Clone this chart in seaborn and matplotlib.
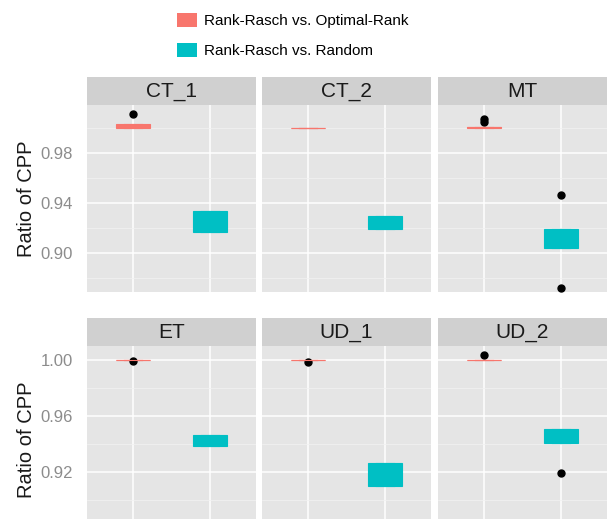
import numpy as np
import pandas as pd
import matplotlib
matplotlib.use("Agg")
import matplotlib.pyplot as plt
import seaborn as sns
from matplotlib.patches import Rectangle, Patch
from matplotlib.ticker import FixedLocator

# ---------------------------
# Data
# ---------------------------
panels = ["CT_1", "CT_2", "MT", "ET", "UD_1", "UD_2"]
comparisons = ["Rank-Rasch vs. Optimal-Rank", "Rank-Rasch vs. Random"]
colors = ["#F8766D", "#00BFC4"]

ct1_optimal = [1.0000, 1.0000, 1.0000, 1.0010, 1.0027, 1.0027, 1.0027, 1.0107]
ct1_random = [0.9166, 0.9166, 0.9166, 0.9250, 0.9336, 0.9336, 0.9336]
ct2_optimal = [0.9993, 0.9993, 0.9993, 0.9995, 0.9997, 0.9997, 0.9997]
ct2_random = [0.9187, 0.9187, 0.9187, 0.9240, 0.9294, 0.9294, 0.9294]
mt_optimal = [0.9996, 0.9996, 0.9996, 1.0000, 1.0004, 1.0004, 1.0004, 1.0048, 1.0067]
mt_random = [0.8715, 0.9040, 0.9040, 0.9040, 0.9110, 0.9187, 0.9187, 0.9187, 0.9462]
et_optimal = [0.9993, 1.0000, 1.0000, 1.0000, 1.0000, 1.0000, 1.0000, 1.0000]
et_random = [0.9386, 0.9386, 0.9386, 0.9420, 0.9462, 0.9462, 0.9462]
ud1_optimal = [0.9988, 1.0000, 1.0000, 1.0000, 1.0000, 1.0000, 1.0000, 1.0000]
ud1_random = [0.9099, 0.9099, 0.9099, 0.9180, 0.9260, 0.9260, 0.9260]
ud2_optimal = [1.0004, 1.0004, 1.0004, 1.0005, 1.0006, 1.0006, 1.0006, 1.0040]
ud2_random = [0.9192, 0.9403, 0.9403, 0.9403, 0.9460, 0.9510, 0.9510, 0.9510]

optimal_sets = [ct1_optimal, ct2_optimal, mt_optimal, et_optimal, ud1_optimal, ud2_optimal]
random_sets = [ct1_random, ct2_random, mt_random, et_random, ud1_random, ud2_random]

row_limits = [(0.8686, 1.018), (0.876, 1.0103)]
row_major = [[0.90, 0.94, 0.98], [0.92, 0.96, 1.00]]
row_minor = [[0.88, 0.92, 0.96, 1.00], [0.90, 0.94, 0.98]]

rows = []
for panel, opt, rnd in zip(panels, optimal_sets, random_sets):
    for v in opt:
        rows.append((panel, comparisons[0], v))
    for v in rnd:
        rows.append((panel, comparisons[1], v))
df = pd.DataFrame(rows, columns=["panel", "comparison", "ratio"])

# ---------------------------
# Figure
# ---------------------------
plt.rcParams["font.family"] = ["Liberation Sans", "DejaVu Sans"]
W, H = 608, 519
fig = plt.figure(figsize=(W / 100, H / 100), dpi=100)

col_x = [87, 262, 438]
panel_w = 169
panel_h = 187
row_top = [105, 346]
strip_h = 28

for i, panel in enumerate(panels):
    r, c = divmod(i, 3)
    left = col_x[c] / W
    bottom = 1 - (row_top[r] + panel_h) / H
    ax = fig.add_axes([left, bottom, panel_w / W, panel_h / H])
    sub = df[df["panel"] == panel]

    sns.boxplot(data=sub, x="comparison", y="ratio", hue="comparison",
                order=comparisons, hue_order=comparisons, palette=colors,
                saturation=1, width=0.45, linewidth=0.8, fliersize=5,
                legend=False, ax=ax)

    # outline same colour as fill, black outlier dots
    for cont, col in zip(ax.containers, colors):
        for b in cont.boxes:
            b.set_edgecolor(col)
            b.set_facecolor(col)
        for ln in list(cont.medians) + list(cont.whiskers) + list(cont.caps):
            ln.set_color(col)
        for f in cont.fliers:
            f.set_marker("o")
            f.set_markerfacecolor("black")
            f.set_markeredgecolor("black")
            f.set_markersize(5)

    ax.set_xlim(-0.6, 1.6)
    ax.set_ylim(*row_limits[r])
    ax.set_facecolor("#E5E5E5")
    for s in ax.spines.values():
        s.set_visible(False)
    ax.yaxis.set_major_locator(FixedLocator(row_major[r]))
    ax.yaxis.set_minor_locator(FixedLocator(row_minor[r]))
    ax.grid(True, which="major", color="white", linewidth=1.1)
    ax.grid(True, which="minor", axis="y", color="#F2F2F2", linewidth=0.5)
    ax.set_axisbelow(True)
    ax.tick_params(axis="x", length=0, labelbottom=False)
    ax.tick_params(axis="y", which="both", length=0, pad=10,
                   labelsize=12, labelcolor="#8C8C8C")
    ax.set_xlabel("")
    if c == 0:
        ax.set_ylabel("Ratio of CPP", fontsize=14.5, color="#1A1A1A")
        ax.yaxis.set_label_coords(-0.30, 0.5)
    else:
        ax.set_ylabel("")
        ax.tick_params(axis="y", labelleft=False)

    # facet strip
    ax.add_patch(Rectangle((0, 1), 1, strip_h / panel_h, transform=ax.transAxes,
                           facecolor="#D0D0D0", edgecolor="none", clip_on=False))
    ax.text(0.5, 1 + strip_h / panel_h / 2, panel, transform=ax.transAxes,
            ha="center", va="center", fontsize=15, color="#1A1A1A")

handles = [Patch(facecolor=c, edgecolor="none", label=l) for c, l in zip(colors, comparisons)]
fig.legend(handles=handles, loc="upper left", bbox_to_anchor=(177 / W, 1 - 13 / H),
           frameon=False, fontsize=11, handlelength=1.3, handleheight=1.05,
           handletextpad=0.45, labelspacing=0.95, borderpad=0, borderaxespad=0)

fig.savefig("out.png", dpi=100)
